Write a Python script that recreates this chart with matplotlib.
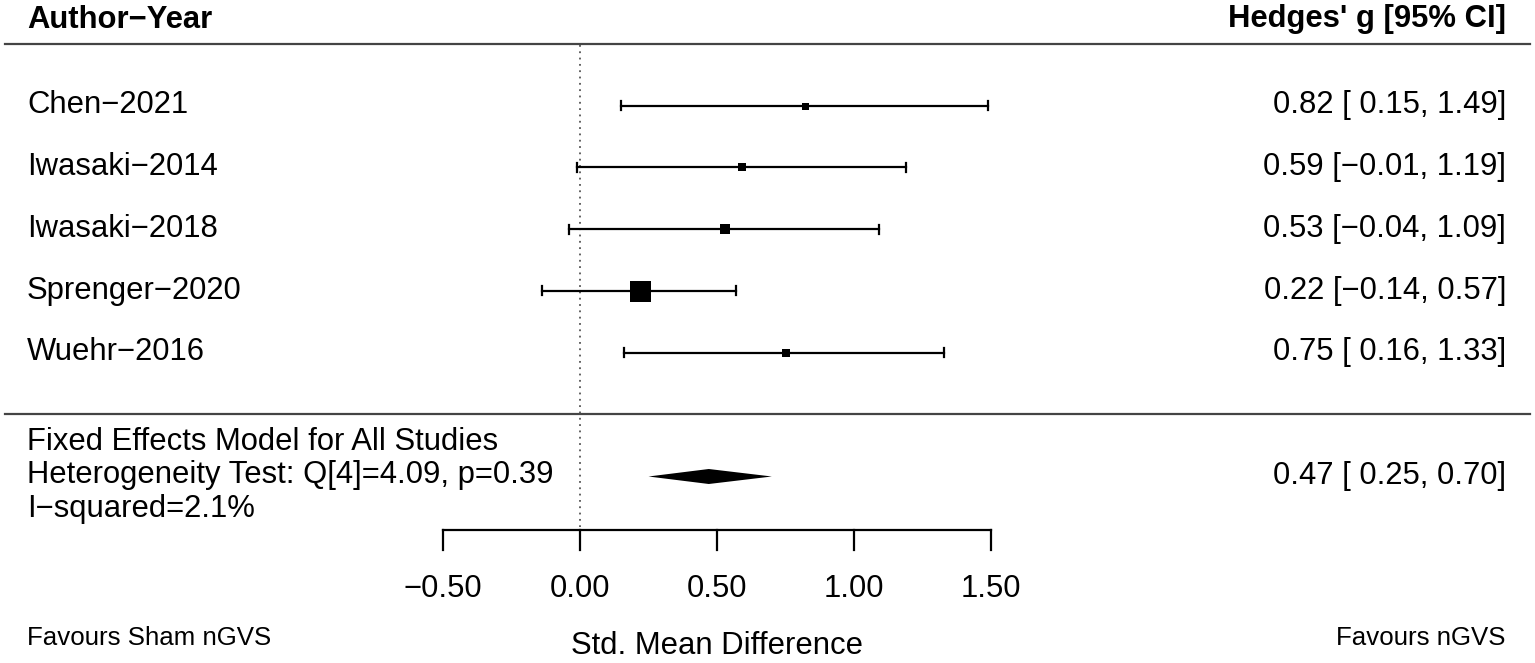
import matplotlib
matplotlib.use("Agg")
import matplotlib.pyplot as plt

plt.rcParams["font.family"] = ["Liberation Sans", "DejaVu Sans"]

# Study data (Hedges' g with 95% CI)
studies = ["Chen-2021", "Iwasaki-2014", "Iwasaki-2018", "Sprenger-2020", "Wuehr-2016"]
g_est = [0.82, 0.59, 0.53, 0.22, 0.75]
ci_low = [0.15, -0.01, -0.04, -0.14, 0.16]
ci_high = [1.49, 1.19, 1.09, 0.57, 1.33]

# Pooled fixed effects result
pooled = [0.47, 0.25, 0.70]
q_stat, q_df, q_p, i_sq = 4.09, 4, 0.39, 2.1

x_ticks = [-0.5, 0.0, 0.5, 1.0, 1.5]

W, H = 1535, 663
fig = plt.figure(figsize=(W / 100, H / 100), dpi=100)
ax = fig.add_axes([0, 0, 1, 1])
ppu = 274.0  # pixels per unit of effect size
x0 = 580.0   # pixel of zero
ax.set_xlim(-x0 / ppu, (W - x0) / ppu)
ax.set_ylim(H, 0)
ax.axis("off")

trans = ax.get_yaxis_transform()  # x in axes fraction, y in pixels
fs = 22.3


def m(s):
    return s.replace("-", "\u2212")


def fmt(e, lo, hi):
    return m(f"{e:.2f} [{lo:5.2f}, {hi:.2f}]")


left_x = 27 / W
right_x = 1506 / W

# header
ax.text(left_x, 27.5, m("Author-Year"), transform=trans, fontsize=fs, fontweight="bold",
        ha="left", va="baseline")
ax.text(right_x, 27.5, "Hedges' g [95% CI]", transform=trans, fontsize=fs, fontweight="bold",
        ha="right", va="baseline")
ax.plot([5 / W, 1530 / W], [43.5, 43.5], transform=trans, color="#444444", lw=1.6)
ax.plot([5 / W, 1530 / W], [414, 414], transform=trans, color="#444444", lw=1.6)

# reference line at zero
ax.plot([0, 0], [45, 527], color="#555555", lw=1.3, ls=(0, (1, 2.5)))

# weights from CI width -> square size like metafor (0.5..1.5 scaled)
se = [(h - l) / 3.92 for l, h in zip(ci_low, ci_high)]
wts = [1 / s ** 2 for s in se]
wmin, wmax = min(wts), max(wts)
psize = [(w - wmin) / (wmax - wmin) + 0.5 for w in wts]

for i, name in enumerate(studies):
    y = 105.5 + i * 61.8
    ax.text(left_x, y + 7.6, m(name), transform=trans, fontsize=fs, ha="left", va="baseline")
    ax.text(right_x, y + 7.6, fmt(g_est[i], ci_low[i], ci_high[i]), transform=trans,
            fontsize=fs, ha="right", va="baseline")
    ax.plot([ci_low[i], ci_high[i]], [y, y], color="black", lw=1.6)
    for xe in (ci_low[i], ci_high[i]):
        ax.plot([xe, xe], [y - 4.5, y + 4.5], color="black", lw=1.6)
    ax.plot(g_est[i], y, marker="s", color="black", markersize=psize[i] * 14 * 0.72, mew=0)

# pooled diamond
yd = 476.5
ax.fill([pooled[1], pooled[0], pooled[2], pooled[0]], [yd, yd - 7.5, yd, yd + 7.5],
        color="black", lw=0)
ax.text(right_x, yd + 7.6, fmt(*pooled), transform=trans, fontsize=fs, ha="right",
        va="baseline")
summary_lines = [
    "Fixed Effects Model for All Studies",
    f"Heterogeneity Test: Q[{q_df}]={q_stat:.2f}, p={q_p:.2f}",
    m(f"I-squared={i_sq:.1f}%"),
]
for k, s in enumerate(summary_lines):
    ax.text(left_x, 450 + k * 33.3, s, transform=trans, fontsize=fs, ha="left", va="baseline")

# x axis
ya = 530
ax.plot([x_ticks[0], x_ticks[-1]], [ya, ya], color="black", lw=1.6)
for t in x_ticks:
    ax.plot([t, t], [ya, ya + 20], color="black", lw=1.6)
    ax.text(t, 597, m(f"{t:.2f}"), fontsize=fs, ha="center", va="baseline")
ax.text(0.5, 654, "Std. Mean Difference", fontsize=fs, ha="center", va="baseline")
ax.text(left_x, 645, "Favours Sham nGVS", transform=trans, fontsize=18.6, ha="left",
        va="baseline")
ax.text(right_x, 645, "Favours nGVS", transform=trans, fontsize=18.6, ha="right",
        va="baseline")

fig.savefig("out.png", dpi=100, facecolor="white")
